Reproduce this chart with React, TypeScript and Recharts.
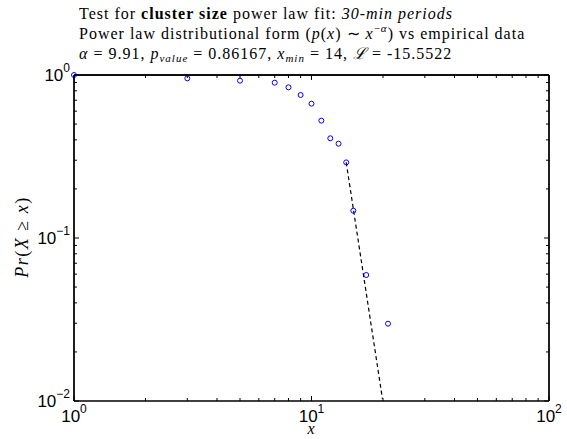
import { ScatterChart, Scatter, XAxis, YAxis, ReferenceLine } from 'recharts';

// empirical CCDF of cluster sizes (30-min periods)
const sizes = [1, 3, 5, 7, 8, 9, 10, 11, 12, 13, 14, 15, 17, 21];
const ccdf = [1, 0.954, 0.923, 0.897, 0.84, 0.754, 0.667, 0.525, 0.409, 0.379, 0.291, 0.147, 0.0593, 0.0298];

// fitted power law, drawn from x_min to where it leaves the plot
const fitX = [14, 19.9];
const fitY = [0.291, 0.0103];

const xTicks = [1, 2, 3, 4, 5, 6, 7, 8, 9, 10, 20, 30, 40, 50, 60, 70, 80, 90, 100];
const yTicks = [0.01, 0.02, 0.03, 0.04, 0.05, 0.06, 0.07, 0.08, 0.09, 0.1, 0.2, 0.3, 0.4, 0.5, 0.6, 0.7, 0.8, 0.9, 1];

const empirical = sizes.map((x, i) => ({ x, y: ccdf[i] }));
const fit = fitX.map((x, i) => ({ x, y: fitY[i] }));

const SANS = '"Liberation Sans", Arial, sans-serif';
const SERIF = '"Liberation Serif", "Times New Roman", serif';

function decade(v: number) {
  const e = Math.round(Math.log10(v));
  return { e, major: Math.abs(Math.log10(v) - e) < 1e-6 };
}

function exp(e: number) {
  return e < 0 ? '\u2212' + Math.abs(e) : String(e);
}

function BottomTick(props: any) {
  const { x, y, payload } = props;
  const { e, major } = decade(payload.value);
  return (
    <g>
      <line x1={x} x2={x} y1={y} y2={y - (major ? 5 : 3)} stroke="#000" />
      {major && (
        <text x={x} y={y + 21} textAnchor="middle" fontFamily={SANS} fontSize={17} fill="#000">
          10<tspan dy={-9} fontSize={12}>{exp(e)}</tspan>
        </text>
      )}
    </g>
  );
}

function TopTick(props: any) {
  const { x, y, payload } = props;
  const { major } = decade(payload.value);
  return <line x1={x} x2={x} y1={y} y2={y + (major ? 5 : 3)} stroke="#000" />;
}

function LeftTick(props: any) {
  const { x, y, payload } = props;
  const { e, major } = decade(payload.value);
  return (
    <g>
      <line x1={x} x2={x + (major ? 5 : 3)} y1={y} y2={y} stroke="#000" />
      {major && (
        <text x={x - 4} y={y + 6} textAnchor="end" fontFamily={SANS} fontSize={17} fill="#000">
          10<tspan dy={-9} fontSize={12}>{exp(e)}</tspan>
        </text>
      )}
    </g>
  );
}

function RightTick(props: any) {
  const { x, y, payload } = props;
  const { major } = decade(payload.value);
  return <line x1={x} x2={x - (major ? 5 : 3)} y1={y} y2={y} stroke="#000" />;
}

const Circle = (props: any) => (
  <circle cx={props.cx} cy={props.cy} r={2.5} fill="none" stroke="#0000ff" strokeWidth={1} />
);

const axisLine = { stroke: '#000', strokeWidth: 1.3 };
const box = { stroke: '#000', strokeWidth: 1.3 };

export default function App() {
  return (
    <div style={{ position: 'absolute', left: 0, top: 0, background: '#fff' }}>
      <ScatterChart width={567} height={439} margin={{ top: 74, right: 17, bottom: 0, left: 0 }}>
        <XAxis
          xAxisId="bottom"
          dataKey="x"
          type="number"
          scale="log"
          domain={[1, 100]}
          ticks={xTicks}
          height={38}
          tickSize={0}
          tickMargin={0}
          axisLine={axisLine}
          tickLine={false}
          tick={<BottomTick />}
          interval={0}
        />
        <XAxis
          xAxisId="top"
          orientation="top"
          dataKey="x"
          type="number"
          scale="log"
          domain={[1, 100]}
          ticks={xTicks}
          height={1}
          tickSize={0}
          tickMargin={0}
          axisLine={axisLine}
          tickLine={false}
          tick={<TopTick />}
          interval={0}
        />
        <YAxis
          yAxisId="left"
          dataKey="y"
          type="number"
          scale="log"
          domain={[0.01, 1]}
          ticks={yTicks}
          width={74}
          tickSize={0}
          tickMargin={0}
          axisLine={axisLine}
          tickLine={false}
          tick={<LeftTick />}
          interval={0}
        />
        <YAxis
          yAxisId="right"
          orientation="right"
          dataKey="y"
          type="number"
          scale="log"
          domain={[0.01, 1]}
          ticks={yTicks}
          width={1}
          tickSize={0}
          tickMargin={0}
          axisLine={axisLine}
          tickLine={false}
          tick={<RightTick />}
          interval={0}
        />
        <ReferenceLine xAxisId="bottom" yAxisId="left" x={1} {...box} ifOverflow="visible" />
        <ReferenceLine xAxisId="bottom" yAxisId="left" x={100} {...box} ifOverflow="visible" />
        <ReferenceLine xAxisId="bottom" yAxisId="left" y={1} {...box} ifOverflow="visible" />
        <Scatter
          xAxisId="top"
          yAxisId="right"
          data={fit}
          line={{ stroke: '#000', strokeWidth: 1.2, strokeDasharray: '4 3' }}
          lineType="joint"
          shape={() => <g />}
          isAnimationActive={false}
        />
        <Scatter
          xAxisId="bottom"
          yAxisId="left"
          data={empirical}
          shape={Circle}
          isAnimationActive={false}
        />
        <text x={79} y={19} fontFamily={SERIF} fontSize={16} letterSpacing={1} fill="#000">
          Test for <tspan fontWeight="bold">cluster size</tspan> power law fit:{' '}
          <tspan fontStyle="italic">30-min periods</tspan>
        </text>
        <text x={79} y={39} fontFamily={SERIF} fontSize={16} letterSpacing={1} fill="#000">
          Power law distributional form (<tspan fontStyle="italic">p</tspan>(<tspan fontStyle="italic">x</tspan>)
          {' \u223C '}
          <tspan fontStyle="italic">x</tspan>
          <tspan dy={-7} fontSize={11}>{'\u2212'}</tspan>
          <tspan fontSize={11} fontStyle="italic">α</tspan>
          <tspan dy={7}>) vs empirical data</tspan>
        </text>
        <text x={79} y={59} fontFamily={SERIF} fontSize={16} letterSpacing={1} fill="#000">
          <tspan fontStyle="italic">α</tspan> = 9.91, <tspan fontStyle="italic">p</tspan>
          <tspan dy={3} fontSize={11} fontStyle="italic">value</tspan>
          <tspan dy={-3}> = 0.86167, </tspan>
          <tspan fontStyle="italic">x</tspan>
          <tspan dy={3} fontSize={11} fontStyle="italic">min</tspan>
          <tspan dy={-3}> = 14, </tspan>
          <tspan fontStyle="italic">{'\u2112'}</tspan> = -15.5522
        </text>
        <text
          transform="rotate(-90)"
          x={-237}
          y={28}
          textAnchor="middle"
          fontFamily={SERIF}
          fontSize={18}
          letterSpacing={1.5}
          fill="#000"
        >
          <tspan fontStyle="italic">Pr</tspan>(<tspan fontStyle="italic">X</tspan> {'\u2265'}{' '}
          <tspan fontStyle="italic">x</tspan>)
        </text>
        <text x={311} y={434} textAnchor="middle" fontFamily={SERIF} fontStyle="italic" fontSize={16} fill="#000">
          x
        </text>
      </ScatterChart>
    </div>
  );
}
